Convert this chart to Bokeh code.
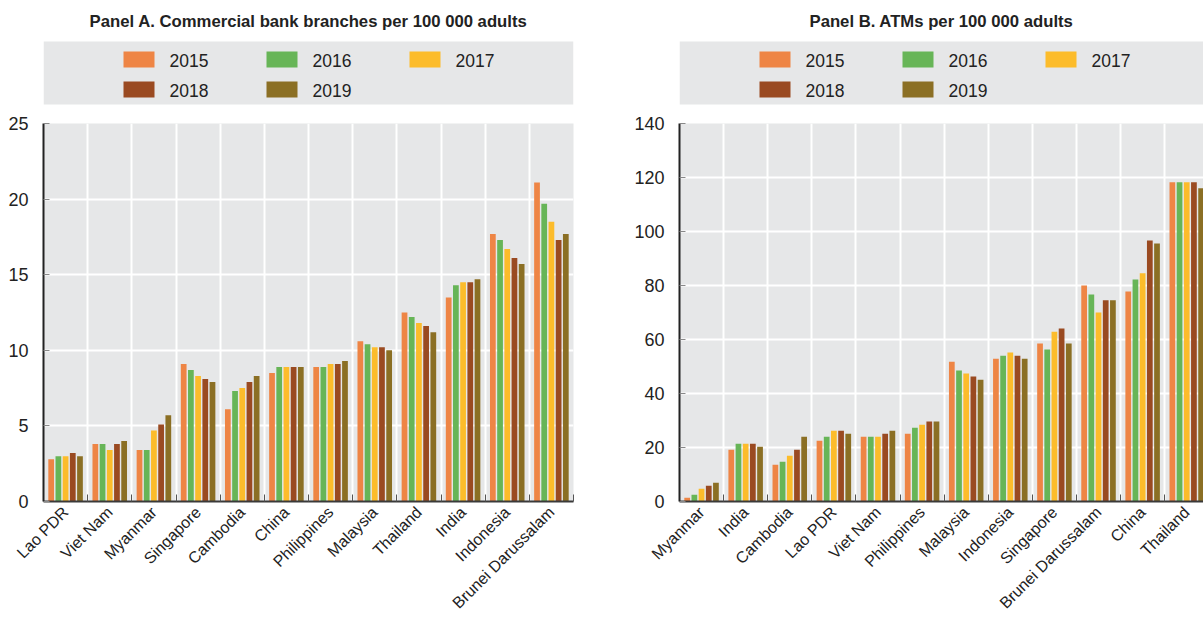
import numpy as np
from bokeh.plotting import figure
from bokeh.models import ColumnDataSource, Range1d, FixedTicker
from bokeh.transform import dodge
from bokeh.layouts import row, column
from bokeh.core.properties import value
from bokeh.embed import file_html
from bokeh.resources import INLINE

years = ["2015", "2016", "2017", "2018", "2019"]
year_colors = ["#EE8545", "#67B557", "#FCBC2B", "#9A4A21", "#8B6F24"]

# Panel A: commercial bank branches per 100 000 adults
countries_a = ["Lao PDR", "Viet Nam", "Myanmar", "Singapore", "Cambodia", "China",
               "Philippines", "Malaysia", "Thailand", "India", "Indonesia",
               "Brunei Darussalam"]
branches_2015 = [2.8, 3.8, 3.4, 9.1, 6.1, 8.5, 8.9, 10.6, 12.5, 13.5, 17.7, 21.1]
branches_2016 = [3.0, 3.8, 3.4, 8.7, 7.3, 8.9, 8.9, 10.4, 12.2, 14.3, 17.3, 19.7]
branches_2017 = [3.0, 3.4, 4.7, 8.3, 7.5, 8.9, 9.1, 10.2, 11.8, 14.5, 16.7, 18.5]
branches_2018 = [3.2, 3.8, 5.1, 8.1, 7.9, 8.9, 9.1, 10.2, 11.6, 14.5, 16.1, 17.3]
branches_2019 = [3.0, 4.0, 5.7, 7.9, 8.3, 8.9, 9.3, 10.0, 11.2, 14.7, 15.7, 17.7]

# Panel B: ATMs per 100 000 adults
countries_b = ["Myanmar", "India", "Cambodia", "Lao PDR", "Viet Nam", "Philippines",
               "Malaysia", "Indonesia", "Singapore", "Brunei Darussalam", "China",
               "Thailand"]
atms_2015 = [1.4, 19.2, 13.6, 22.5, 24.0, 25.1, 51.8, 52.9, 58.5, 80.0, 77.8, 118.2]
atms_2016 = [2.5, 21.4, 14.7, 24.0, 24.0, 27.3, 48.5, 54.0, 56.3, 76.7, 82.2, 118.2]
atms_2017 = [4.7, 21.4, 16.9, 26.2, 24.0, 28.4, 47.4, 55.2, 62.9, 70.0, 84.5, 118.2]
atms_2018 = [5.8, 21.4, 19.2, 26.2, 25.1, 29.6, 46.3, 54.0, 64.1, 74.5, 96.7, 118.2]
atms_2019 = [6.9, 20.3, 24.0, 25.1, 26.2, 29.6, 45.1, 52.9, 58.5, 74.5, 95.6, 116.0]

FONT = "Liberation Sans"
TEXT = "#222222"
PANEL_BG = "#E6E7E8"
HEADER_H = 110
MAIN_H = 511


def build_panel(title, countries, series, y_max, y_step, x_end,
                width, border_left, border_right, x0):
    frame_left = x0 + border_left
    frame_right = x0 + width - border_right

    # header: title and legend box, in pixel coordinates (y pointing down)
    h = figure(width=width, height=HEADER_H, x_range=Range1d(frame_left, frame_right),
               y_range=Range1d(HEADER_H, 0), x_axis_type=None, y_axis_type=None,
               toolbar_location=None, output_backend="svg",
               min_border_left=border_left, min_border_right=border_right,
               min_border_top=0, min_border_bottom=0,
               outline_line_color=None, background_fill_color="white")
    h.grid.visible = False
    h.text(x=[(frame_left + frame_right) / 2], y=[21], text=[title],
           text_font=value(FONT), text_font_style="bold", text_font_size="16.7px",
           text_color=TEXT, text_align="center", text_baseline="middle")
    h.quad(left=[frame_left], right=[frame_right], top=[41], bottom=[104],
           fill_color=PANEL_BG, line_color=None)
    col_off = [80, 223, 366]
    row_y = [59, 89]
    for k, yr in enumerate(years):
        cx = frame_left + col_off[k % 3]
        cy = row_y[k // 3]
        h.quad(left=[cx], right=[cx + 31], top=[cy - 8], bottom=[cy + 8],
               fill_color=year_colors[k], line_color=None)
        h.text(x=[cx + 46], y=[cy + 1], text=[yr], text_font=value(FONT),
               text_font_size="17.5px", text_color=TEXT, text_baseline="middle")

    # main bar chart
    p = figure(width=width, height=MAIN_H, x_range=Range1d(-0.5, x_end),
               y_range=Range1d(0, y_max), toolbar_location=None,
               output_backend="svg", background_fill_color=PANEL_BG,
               border_fill_color="white", outline_line_color=None,
               min_border_left=border_left, min_border_right=border_right,
               min_border_top=13, min_border_bottom=120)
    data = {"x": list(range(len(countries)))}
    for yr, vals in zip(years, series):
        data["y" + yr] = vals
    src = ColumnDataSource(data)
    step = 0.163
    for k, yr in enumerate(years):
        p.vbar(x=dodge("x", (k - 2) * step, range=p.x_range), top="y" + yr,
               bottom=0, width=0.13, source=src, fill_color=year_colors[k],
               line_color=None)

    centers = list(range(len(countries)))
    bounds = [i - 0.5 for i in range(len(countries) + 1)]
    p.xaxis.ticker = FixedTicker(ticks=centers, minor_ticks=bounds)
    p.xaxis.major_label_overrides = {i: c for i, c in enumerate(countries)}
    p.xaxis.major_label_orientation = np.pi / 4
    p.xaxis.major_label_text_font = FONT
    p.xaxis.major_label_text_font_size = "16px"
    p.xaxis.major_label_text_color = TEXT
    p.xaxis.major_label_standoff = 2
    p.xaxis.major_tick_line_color = None
    p.xaxis.minor_tick_in = 7
    p.xaxis.minor_tick_out = 0
    p.xaxis.minor_tick_line_color = "#555555"
    p.xaxis.minor_tick_line_width = 1
    p.xaxis.axis_line_color = "#3a3a3a"
    p.xaxis.axis_line_width = 2

    p.yaxis.ticker = FixedTicker(ticks=list(range(0, y_max + 1, y_step)))
    p.yaxis.major_label_text_font = FONT
    p.yaxis.major_label_text_font_size = "18px"
    p.yaxis.major_label_text_color = TEXT
    p.yaxis.major_label_standoff = 15
    p.yaxis.major_tick_in = 6
    p.yaxis.major_tick_out = 0
    p.yaxis.major_tick_line_color = "#888888"
    p.yaxis.minor_tick_line_color = None
    p.yaxis.axis_line_color = "#222222"
    p.yaxis.axis_line_width = 2

    p.xgrid.grid_line_color = None
    p.xgrid.minor_grid_line_color = "white"
    p.xgrid.minor_grid_line_width = 2
    p.ygrid.grid_line_color = "white"
    p.ygrid.grid_line_width = 2

    return column(h, p, spacing=0)


panel_a = build_panel("Panel A. Commercial bank branches per 100 000 adults",
                      countries_a,
                      [branches_2015, branches_2016, branches_2017, branches_2018,
                       branches_2019],
                      25, 5, 11.5, 620, 43, 47, 0)
panel_b = build_panel("Panel B. ATMs per 100 000 adults",
                      countries_b,
                      [atms_2015, atms_2016, atms_2017, atms_2018, atms_2019],
                      140, 20, 11.38, 583, 59, 0, 620)

layout = row(panel_a, panel_b, spacing=0)

with open("out.html", "w") as f:
    f.write(file_html(layout, INLINE))
